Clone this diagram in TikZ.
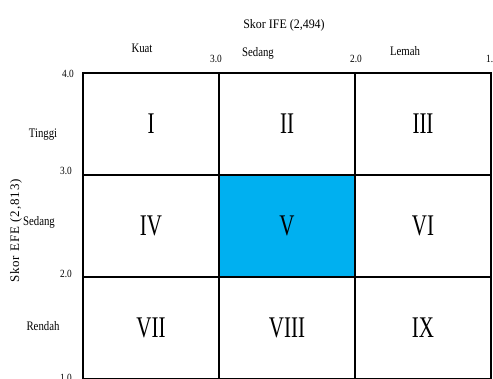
\documentclass[tikz,border=0pt]{standalone}
\usepackage{fontspec}
\setmainfont{Liberation Serif}
\newfontfamily\widefont[LetterSpace=7]{Liberation Serif}
\usetikzlibrary{positioning}
\definecolor{cellblue}{RGB}{0,176,240}

\begin{document}
\begin{tikzpicture}[x=1pt, y=-1pt,
    cell/.style={draw, line width=1.8pt, minimum width=136pt, minimum height=102pt, inner sep=0pt, font=\fontsize{30}{30}\selectfont},
    lbl/.style={anchor=base, inner sep=0pt, font=\fontsize{13}{13}\selectfont},
    tick/.style={anchor=base, inner sep=0pt, font=\fontsize{11}{11}\selectfont}]
  \useasboundingbox (0,0) rectangle (493,378);
  % matrix cells
  \node[cell, fill=cellblue] (cellV) at (287,226) {\scalebox{0.7}[1]{V}};
  \foreach \nm/\i/\j in {I/0/0, II/1/0, III/2/0, IV/0/1, VI/2/1, VII/0/2, VIII/1/2, IX/2/2}
    \node[cell] (cell\nm) at ({151+136*\i},{124+102*\j}) {\scalebox{0.7}[1]{\nm}};
  % axis titles
  \node[lbl] (ife) at (284,28) {\scalebox{0.92}[1]{Skor IFE (2,494)}};
  \node[inner sep=0pt, rotate=90, font=\fontsize{13}{13}\selectfont\widefont] (efe) at (16,231) {Skor EFE (2,813)};
  % column labels
  \node[lbl] (kuat) at (142,52) {\scalebox{0.83}[1]{Kuat}};
  \node[lbl] (sedangx) at (258,56) {\scalebox{0.83}[1]{Sedang}};
  \node[lbl] (lemah) at (405,55) {\scalebox{0.83}[1]{Lemah}};
  % row labels
  \node[lbl] (tinggi) at (43,137) {\scalebox{0.83}[1]{Tinggi}};
  \node[lbl] (sedangy) at (39,225) {\scalebox{0.83}[1]{Sedang}};
  \node[lbl] (rendah) at (43,330) {\scalebox{0.83}[1]{Rendah}};
  % scale values
  \node[tick] (t3) at (216,62) {\scalebox{0.85}[1]{3.0}};
  \node[tick] (t2) at (356,62) {\scalebox{0.85}[1]{2.0}};
  \node[tick] (t1) at (492,62) {\scalebox{0.85}[1]{1.0}};
  \node[tick] (s4) at (68,77) {\scalebox{0.85}[1]{4.0}};
  \node[tick] (s3) at (66,174) {\scalebox{0.85}[1]{3.0}};
  \node[tick] (s2) at (66,277) {\scalebox{0.85}[1]{2.0}};
  \node[tick] (s1) at (66,381) {\scalebox{0.85}[1]{1.0}};
\end{tikzpicture}
\end{document}
